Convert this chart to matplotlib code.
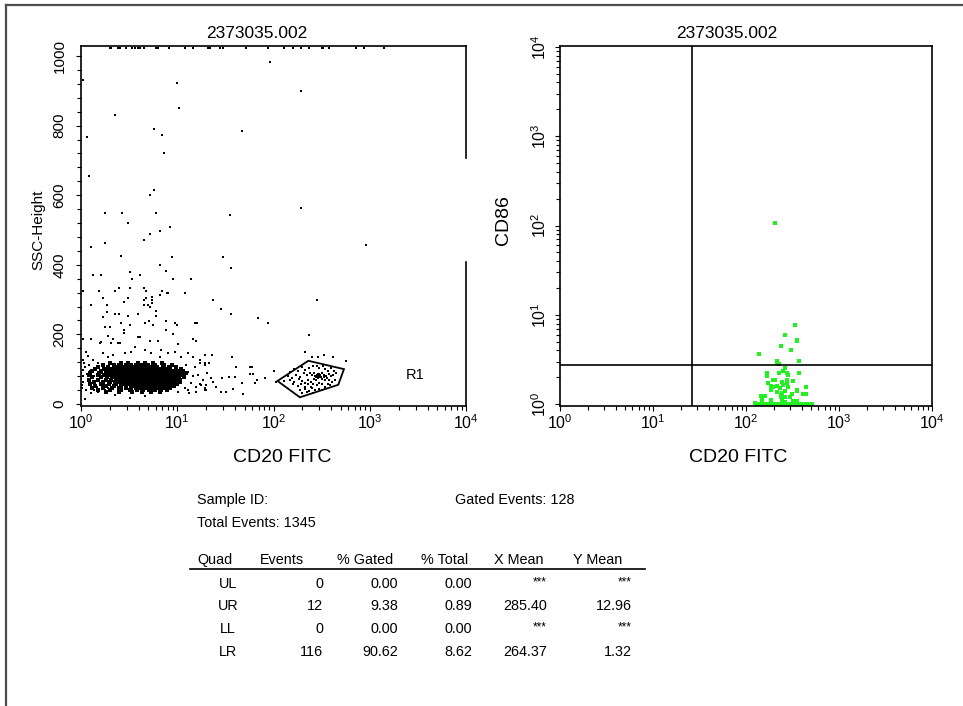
import matplotlib
matplotlib.use("Agg")
import matplotlib.pyplot as plt
from matplotlib.lines import Line2D
from matplotlib.ticker import FixedLocator, LogLocator, NullFormatter

plt.rcParams['font.family'] = ['Liberation Sans', 'DejaVu Sans']
plt.rcParams['mathtext.fontset'] = 'custom'
plt.rcParams['mathtext.rm'] = 'Liberation Sans'
plt.rcParams['mathtext.it'] = 'Liberation Sans:italic'
plt.rcParams['mathtext.bf'] = 'Liberation Sans:bold'

# ---- data: left plot (CD20 FITC vs SSC-Height) ----
# events piled up on the top edge (SSC saturated)
top_x = [1.99, 2.05, 2.42, 2.54, 2.94, 3.39, 3.64, 3.91, 4.10, 4.52, 6.01, 6.31, 8.21,
         12.0, 14.6, 20.9, 21.9, 27.8, 29.9, 51.8, 87.7, 128, 160, 193, 234, 319, 327,
         377, 719, 871, 1406]
top_ssc = 1023

# scattered events, (CD20, SSC)
sparse_pts = [
    (92.7, 983), (1.04, 932), (9.87, 922), (10.4, 850), (2.27, 830), (5.78, 789), (7.0, 774),
    (46.7, 784), (1.15, 768), (7.34, 722), (1.21, 655), (193, 901), (193, 564), (915, 457),
    (285, 299), (5.73, 615), (5.25, 600), (1.79, 549), (2.65, 549), (6.01, 549), (35.1, 544),
    (3.05, 519), (8.47, 508), (6.62, 497), (5.21, 488), (4.51, 472), (1.26, 452), (1.79, 463),
    (2.62, 426), (8.89, 421), (30.1, 421), (36.4, 390), (6.62, 400), (7.64, 381), (3.2, 380),
    (1.33, 370), (1.61, 370), (3.36, 360), (4.1, 370), (8.97, 360), (13.9, 360), (1.04, 324),
    (1.55, 324), (2.27, 324), (2.5, 334), (3.2, 334), (4.51, 334), (4.77, 324), (7.0, 324),
    (6.62, 314), (7.77, 319), (8.07, 319), (11.9, 319), (1.71, 304), (3.05, 304), (2.78, 293),
    (4.51, 299), (4.77, 304), (5.47, 308), (5.47, 299), (5.44, 289), (23.7, 299), (1.26, 284),
    (1.88, 284), (4.51, 284), (4.97, 284), (5.25, 278), (6.06, 268), (28.7, 273), (36.4, 259),
    (1.88, 264), (2.27, 259), (2.5, 259), (3.88, 259), (68.5, 248), (88.0, 233), (234, 197),
    (212, 150),
    # around the main population
    (3.08, 253), (6.06, 253), (1.69, 249), (1.76, 222), (1.99, 222), (2.62, 232), (2.77, 213),
    (2.77, 203), (3.2, 227), (4.59, 232), (5.09, 239), (5.6, 227), (7.7, 237), (9.4, 232),
    (9.94, 227), (15.2, 232), (16.0, 232), (7.7, 213), (9.03, 201), (1.91, 195), (2.15, 186),
    (2.07, 174), (2.42, 174), (2.52, 174), (3.91, 193), (4.07, 193), (5.17, 181), (6.31, 181),
    (10.2, 171), (14.6, 186), (15.8, 181), (1.56, 174), (1.63, 179), (1.05, 186), (1.28, 186),
    (1.14, 150), (1.18, 138), (1.05, 126), (1.33, 126), (1.09, 107), (1.5, 117), (1.69, 146),
    (1.91, 136), (2.15, 141), (2.84, 146), (3.33, 150), (3.61, 165), (4.59, 155), (5.38, 146),
    (6.83, 155), (6.57, 136), (8.01, 146), (9.4, 150), (11.0, 136), (12.9, 146), (14.6, 136),
    (17.1, 126), (19.3, 112), (15.2, 107), (12.4, 112),
    (1.09, 13), (1.28, 31), (1.5, 35), (1.76, 40), (2.24, 26), (3.2, 16), (4.59, 23), (6.83, 31),
    (10.2, 33), (12.9, 40), (15.8, 35), (19.3, 40), (20.0, 55),
    (12.9, 93), (14.6, 79), (16.4, 83), (18.5, 69), (14.0, 59), (15.8, 50), (17.8, 55),
    (20.0, 40), (11.9, 45), (13.4, 31),
    (1.06, 64), (1.04, 79), (1.06, 98), (1.0, 88), (1.0, 72), (1.02, 55), (1.03, 45), (1.12, 40),
    (1.15, 85), (1.2, 70), (1.25, 95), (1.3, 60), (1.38, 80), (1.45, 50), (1.42, 102), (1.55, 66),
    (1.6, 90), (1.7, 55), (1.75, 110), (1.85, 75), (1.9, 45), (1.95, 100), (1.08, 118),
    (1.22, 112), (1.35, 40),
    # between the two populations
    (19.4, 141), (22.8, 141), (36.8, 135), (17.2, 117), (19.4, 117), (21.5, 117), (40.8, 105),
    (57, 105), (60, 105), (20.2, 90), (34.7, 78), (39.8, 78), (57, 85), (61, 85), (102, 94),
    (22.2, 74), (29, 74), (46.7, 59), (66.8, 69), (81.6, 74), (23.7, 63), (25.1, 50), (17.2, 57),
    (19.4, 45), (38.2, 44), (28.5, 35), (32.1, 34), (48.5, 28), (64.3, 59), (106, 62),
    (249, 136), (292, 136), (335, 141), (418, 136), (562, 124),
]

# dense main population: SSC rows and the CD20 values seen along each row
core_ssc = [118, 112, 106, 100, 94, 88, 82, 76, 70, 64, 58, 52, 46, 40, 34]
core_x = [
    [2.0, 2.6, 3.1, 3.9, 4.6, 5.6, 6.9],
    [1.7, 2.2, 2.5, 2.9, 3.3, 3.7, 4.2, 5.0, 5.9, 7.3, 8.8],
    [1.5, 1.9, 2.2, 2.45, 2.7, 3.0, 3.3, 3.6, 3.95, 4.4, 4.9, 5.5, 6.2, 7.1, 8.3, 9.8],
    [1.4, 1.75, 2.05, 2.3, 2.55, 2.8, 3.05, 3.3, 3.55, 3.85, 4.15, 4.5, 4.9, 5.3, 5.8, 6.3,
     6.9, 7.6, 8.5, 9.6, 11.0],
    [1.3, 1.6, 1.9, 2.15, 2.4, 2.6, 2.8, 3.0, 3.2, 3.4, 3.6, 3.85, 4.1, 4.35, 4.6, 4.9, 5.2,
     5.5, 5.85, 6.2, 6.6, 7.0, 7.5, 8.0, 8.6, 9.3, 10.2, 11.5],
    [1.25, 1.55, 1.8, 2.05, 2.3, 2.5, 2.7, 2.9, 3.1, 3.3, 3.5, 3.7, 3.9, 4.1, 4.3, 4.55, 4.8,
     5.05, 5.3, 5.6, 5.9, 6.2, 6.55, 6.9, 7.3, 7.7, 8.2, 8.7, 9.3, 10.0, 11.0, 12.3],
    [1.2, 1.5, 1.75, 2.0, 2.2, 2.4, 2.6, 2.8, 3.0, 3.15, 3.3, 3.5, 3.7, 3.9, 4.1, 4.3, 4.5,
     4.75, 5.0, 5.25, 5.5, 5.8, 6.1, 6.4, 6.75, 7.1, 7.5, 7.9, 8.4, 8.9, 9.5, 10.3, 11.4],
    [1.3, 1.6, 1.85, 2.1, 2.3, 2.5, 2.7, 2.9, 3.05, 3.2, 3.4, 3.6, 3.8, 4.0, 4.2, 4.4, 4.6,
     4.85, 5.1, 5.35, 5.6, 5.9, 6.2, 6.5, 6.85, 7.2, 7.6, 8.0, 8.5, 9.0, 9.6, 10.5, 11.8],
    [1.2, 1.5, 1.8, 2.05, 2.3, 2.55, 2.75, 2.95, 3.15, 3.35, 3.55, 3.75, 3.95, 4.15, 4.35,
     4.6, 4.85, 5.1, 5.35, 5.65, 5.95, 6.25, 6.6, 6.95, 7.3, 7.7, 8.1, 8.6, 9.1, 9.7, 10.6],
    [1.35, 1.7, 2.0, 2.25, 2.5, 2.7, 2.9, 3.1, 3.3, 3.5, 3.7, 3.9, 4.1, 4.3, 4.55, 4.8, 5.05,
     5.3, 5.6, 5.9, 6.2, 6.5, 6.85, 7.2, 7.6, 8.0, 8.5, 9.0, 9.7, 10.8],
    [1.25, 1.6, 1.95, 2.3, 2.6, 2.85, 3.1, 3.35, 3.6, 3.85, 4.1, 4.35, 4.6, 4.9, 5.2, 5.5,
     5.8, 6.1, 6.45, 6.8, 7.2, 7.6, 8.1, 8.6, 9.2, 10.0],
    [1.4, 1.8, 2.2, 2.6, 2.95, 3.3, 3.6, 3.9, 4.2, 4.5, 4.8, 5.1, 5.45, 5.8, 6.15, 6.5, 6.9,
     7.4, 7.9, 8.5, 9.3],
    [1.3, 1.7, 2.1, 2.5, 2.9, 3.3, 3.7, 4.1, 4.5, 4.9, 5.3, 5.8, 6.3, 6.9, 7.6, 8.4],
    [1.5, 2.0, 2.6, 3.2, 3.8, 4.4, 5.1, 5.9, 6.8, 7.9],
    [1.8, 2.5, 3.4, 4.3, 5.4, 6.6],
]

# CD20+ population inside gate R1
gated_pts = [
    (150, 92), (165, 100), (180, 95), (200, 105), (215, 98), (235, 102), (255, 108), (280, 110),
    (300, 104), (325, 108), (345, 100), (370, 96), (400, 104), (430, 96),
    (140, 80), (155, 74), (172, 84), (190, 78), (205, 88), (222, 82), (240, 90), (252, 84),
    (265, 88), (278, 80), (290, 86), (305, 82), (320, 90), (338, 84), (355, 80), (375, 86),
    (395, 80), (420, 84), (450, 88),
    (130, 66), (148, 70), (165, 64), (182, 72), (198, 66), (214, 60), (230, 70), (246, 64),
    (262, 72), (275, 68), (288, 74), (296, 76), (300, 80), (310, 78), (320, 72), (332, 76),
    (345, 70), (360, 74), (380, 68), (405, 64), (440, 70),
    (160, 56), (178, 52), (195, 58), (212, 48), (228, 56), (244, 50), (260, 58), (280, 54),
    (300, 60), (318, 56), (340, 50), (365, 58), (390, 54),
    (190, 40), (210, 44), (232, 38), (250, 46), (270, 40), (295, 44), (320, 40), (345, 46),
    (200, 30), (225, 34), (260, 32),
    (282, 84), (286, 78), (292, 82), (290, 76), (296, 86), (270, 80), (276, 76), (300, 76),
    (304, 84),
]

gate_x = [110, 230, 540, 471, 188]
gate_y = [66, 124, 100, 55, 19]

# ---- data: right plot (CD20 FITC vs CD86, gated on R1) ----
cd86_pts = [
    (339, 7.68), (263, 5.88), (356, 5.08), (352, 5.3), (238, 4.43), (305, 4.03), (137, 3.69),
    (215, 3.05), (215, 2.86), (374, 3.05), (205, 106), (228, 2.8),
    (263, 2.55), (167, 2.24), (167, 2.06), (226, 2.24), (248, 2.34), (274, 2.21), (285, 2.11),
    (374, 2.24), (197, 1.86), (205, 1.86), (174, 1.73), (242, 1.78), (278, 1.86), (278, 1.71),
    (323, 1.81), (186, 1.59), (186, 1.46), (197, 1.54), (217, 1.59), (232, 1.50), (252, 1.63),
    (285, 1.54), (356, 1.46), (438, 1.54), (217, 1.37), (242, 1.34), (263, 1.41), (310, 1.29),
    (351, 1.41), (145, 1.23), (160, 1.23), (238, 1.26), (238, 1.19), (263, 1.21), (297, 1.19),
    (184, 1.11), (242, 1.11), (263, 1.06), (323, 1.08), (356, 1.08), (413, 1.29), (442, 1.29),
    (125, 1.02), (147, 1.11), (147, 1.03),
]
cd86_floor_x = [130, 136, 142, 147, 153, 160, 167, 174, 181, 189, 197, 214, 232, 242, 252,
                263, 274, 285, 297, 310, 323, 337, 351, 366, 381, 414, 449, 468, 488, 508]
quad_x = 26.3
quad_y = 2.73

# ---- statistics table ----
quads = ['UL', 'UR', 'LL', 'LR']
events = ['0', '12', '0', '116']
pct_gated = ['0.00', '9.38', '0.00', '90.62']
pct_total = ['0.00', '0.89', '0.00', '8.62']
x_mean = ['***', '285.40', '***', '264.37']
y_mean = ['***', '12.96', '***', '1.32']

W, H = 963, 706
def fx(px):
    return px / W
def fy(py):
    return 1 - py / H

fig = plt.figure(figsize=(W / 100, H / 100), dpi=100)

decade_labels = [r'$\mathregular{10^{%d}}$' % i for i in range(5)]

def style_axes(ax):
    for s in ax.spines.values():
        s.set_linewidth(1.2)
    ax.tick_params(which='both', direction='out', width=0.8, labelsize=11.5)
    ax.tick_params(which='major', length=3.5)
    ax.tick_params(which='minor', length=2.6)
    ax.set_xscale('log')
    ax.set_xlim(1, 1e4)
    ax.xaxis.set_major_locator(FixedLocator([1, 10, 100, 1000, 10000]))
    ax.set_xticklabels(decade_labels)
    ax.xaxis.set_minor_locator(LogLocator(base=10, subs=range(2, 10)))
    ax.xaxis.set_minor_formatter(NullFormatter())
    ax.tick_params(axis='x', pad=1.5)

dot = dict(marker='s', linewidths=0)

# left panel
ax1 = fig.add_axes([fx(81), fy(406), fx(466) - fx(81), (406 - 46) / H])
style_axes(ax1)
ax1.set_ylim(-6, 1029)
ax1.yaxis.set_major_locator(FixedLocator([0, 200, 400, 600, 800, 1000]))
ax1.yaxis.set_minor_locator(FixedLocator(list(range(0, 1040, 40))))
ax1.tick_params(axis='y', labelrotation=90, pad=7, labelsize=11)
for lab in ax1.get_yticklabels():
    lab.set_va('center')

ax1.scatter(top_x, [top_ssc] * len(top_x), s=4.3, c='k', clip_on=False, **dot)
ax1.scatter([p[0] for p in sparse_pts], [p[1] for p in sparse_pts], s=4.3, c='k', **dot)
cx, cy = [], []
for ssc, row in zip(core_ssc, core_x):
    cx += row
    cy += [ssc] * len(row)
ax1.scatter(cx, cy, s=5.5, c='k', **dot)
ax1.scatter([p[0] for p in gated_pts], [p[1] for p in gated_pts], s=3.8, c='k', **dot)
ax1.fill(gate_x, gate_y, fill=False, ec='k', lw=1.3)
ax1.text(2950, 83, 'R1', fontsize=10.5, ha='center', va='center')

# right spine of left panel has a break in it
ax1.spines['right'].set_visible(False)
ax1.plot([1, 1], [0, 0.4], transform=ax1.transAxes, color='k', lw=1.2, clip_on=False)
ax1.plot([1, 1], [0.689, 1], transform=ax1.transAxes, color='k', lw=1.2, clip_on=False)

# right panel
ax2 = fig.add_axes([fx(560), fy(406), fx(932) - fx(560), (406 - 46) / H])
style_axes(ax2)
ax2.set_yscale('log')
ax2.set_ylim(0.955, 10250)
ax2.yaxis.set_major_locator(FixedLocator([1, 10, 100, 1000, 10000]))
ax2.set_yticklabels(decade_labels)
ax2.yaxis.set_minor_locator(LogLocator(base=10, subs=range(2, 10)))
ax2.yaxis.set_minor_formatter(NullFormatter())
ax2.tick_params(axis='y', labelrotation=90, pad=4.5)
for lab in ax2.get_yticklabels():
    lab.set_va('center')

green = '#22f022'
ax2.scatter([p[0] for p in cd86_pts], [p[1] for p in cd86_pts], s=5, c=green, **dot)
ax2.scatter(cd86_floor_x, [1.0] * len(cd86_floor_x), s=5, c=green, **dot)
ax2.axvline(quad_x, color='k', lw=1.2)
ax2.axhline(quad_y, color='k', lw=1.2)

# titles and axis labels
fig.text(fx(257), fy(33), '2373035.002', ha='center', va='center', fontsize=12.5)
fig.text(fx(727), fy(33), '2373035.002', ha='center', va='center', fontsize=12.5)
fig.text(fx(38), fy(230), 'SSC-Height', rotation=90, ha='center', va='center', fontsize=11)
fig.text(fx(503), fy(220), 'CD86', rotation=90, ha='center', va='center', fontsize=14)
fig.text(fx(282), fy(458), 'CD20 FITC', ha='center', va='center', fontsize=14)
fig.text(fx(738), fy(458), 'CD20 FITC', ha='center', va='center', fontsize=14)

# statistics block
fs = 10.4
fig.text(fx(197), fy(504), 'Sample ID:', fontsize=fs, va='baseline')
fig.text(fx(455), fy(504), 'Gated Events: 128', fontsize=fs, va='baseline')
fig.text(fx(197), fy(527), 'Total Events: 1345', fontsize=fs, va='baseline')
heads = ['Quad', 'Events', '% Gated', '% Total', 'X Mean', 'Y Mean']
head_x = [197, 260, 337, 421, 494, 573]
for t, hx in zip(heads, head_x):
    fig.text(fx(hx), fy(564), t, fontsize=fs, va='baseline')
fig.add_artist(Line2D([fx(190), fx(645)], [fy(569), fy(569)], color='k', lw=1.2))
row_base = [588, 610, 633, 656]
for i in range(4):
    yb = fy(row_base[i])
    fig.text(fx(228), yb, quads[i], fontsize=fs, va='baseline', ha='center')
    fig.text(fx(323), yb, events[i], fontsize=fs, va='baseline', ha='right')
    fig.text(fx(398), yb, pct_gated[i], fontsize=fs, va='baseline', ha='right')
    fig.text(fx(472), yb, pct_total[i], fontsize=fs, va='baseline', ha='right')
    for val, rx in ((x_mean[i], 547), (y_mean[i], 632)):
        if val == '***':
            fig.text(fx(rx), fy(row_base[i] - 3), val, fontsize=8.5, va='baseline', ha='right')
        else:
            fig.text(fx(rx), yb, val, fontsize=fs, va='baseline', ha='right')

# outer page frame
fig.add_artist(Line2D([fx(6), fx(6)], [fy(5), -0.01], color='#4d4d4d', lw=1.6))
fig.add_artist(Line2D([fx(6), 1.01], [fy(5), fy(5)], color='#4d4d4d', lw=1.6))

fig.savefig('out.png', dpi=100)
